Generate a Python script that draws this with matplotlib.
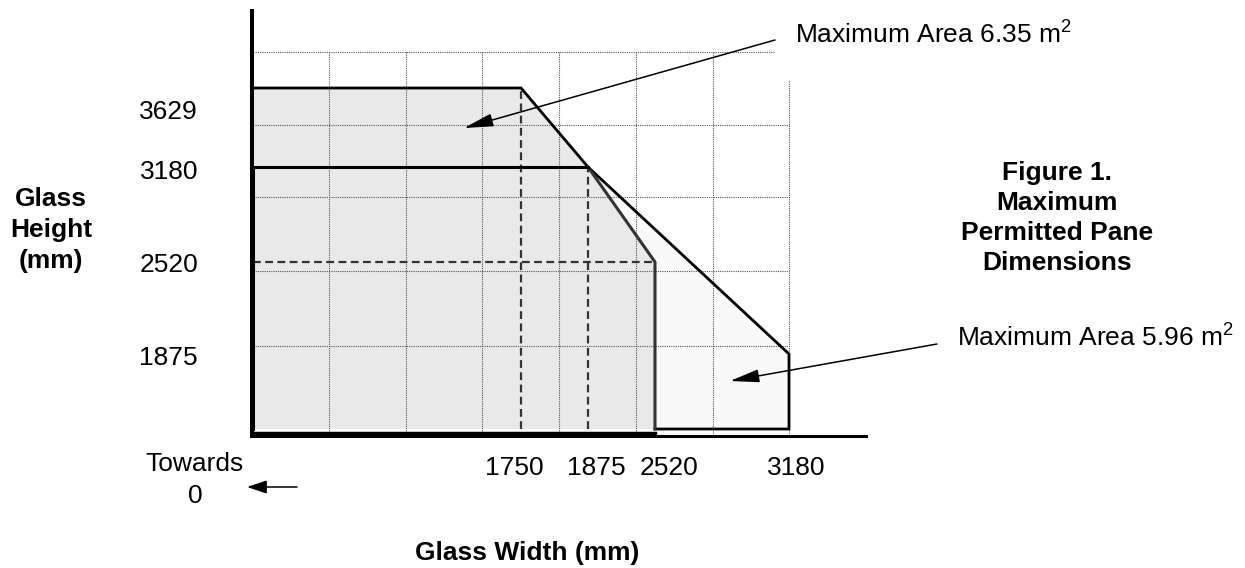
import numpy as np
import matplotlib
matplotlib.use("Agg")
import matplotlib.pyplot as plt
from matplotlib.lines import Line2D
from matplotlib.transforms import Affine2D

plt.rcParams['font.family'] = ['Liberation Sans', 'DejaVu Sans']
plt.rcParams['mathtext.fontset'] = 'custom'
plt.rcParams['mathtext.rm'] = 'Liberation Sans'
plt.rcParams['mathtext.it'] = 'Liberation Sans'

# pane limits (mm)
x_ticks = [1750, 1875, 2520, 3180]
y_ticks = [1875, 2520, 3180, 3629]

outer_w = [0, 0, 1750, 1875, 3180, 3180]
outer_h = [0, 3629, 3629, 3180, 1875, 0]
inner_w = [0, 0, 1875, 2520, 2520]
inner_h = [0, 3180, 3180, 2520, 0]

area_labels = ["Maximum Area 6.35 m$^2$", "Maximum Area 5.96 m$^2$"]

W, H = 1245, 568
FS = 19

# the drawing is a schematic, not to scale -> piecewise scale (mm -> pixel)
X_MM = [0, 1750, 1875, 2520, 3180]
X_PX = [253, 521, 588, 655, 789]
Y_MM = [0, 1875, 2520, 3180, 3629]
Y_PX = [H - r for r in [429, 354, 262, 167, 88]]


def piecewise(xp, fp):
    xp = np.asarray(xp, float)
    fp = np.asarray(fp, float)
    s0 = (fp[1] - fp[0]) / (xp[1] - xp[0])
    s1 = (fp[-1] - fp[-2]) / (xp[-1] - xp[-2])

    def f(v):
        v = np.asarray(v, float)
        return np.where(v < xp[0], fp[0] + (v - xp[0]) * s0,
                        np.where(v > xp[-1], fp[-1] + (v - xp[-1]) * s1,
                                 np.interp(v, xp, fp)))
    return f


fx, ix = piecewise(X_MM, X_PX), piecewise(X_PX, X_MM)
fy, iy = piecewise(Y_MM, Y_PX), piecewise(Y_PX, Y_MM)

fig = plt.figure(figsize=(W / 100, H / 100), dpi=100)
ax = fig.add_axes([252 / W, (H - 436) / H, (866 - 252) / W, (436 - 11) / H])
ax.set_xscale('function', functions=(fx, ix))
ax.set_yscale('function', functions=(fy, iy))
ax.set_xlim(float(ix(252)), float(ix(866)))
ax.set_ylim(float(iy(H - 436)), float(iy(H - 11)))
ax.set_xticks([])
ax.set_yticks([])
ax.minorticks_off()
for s in ['top', 'right']:
    ax.spines[s].set_visible(False)
ax.spines['left'].set_linewidth(2.9)
ax.spines['bottom'].set_linewidth(2.2)

# image-pixel coords (row counted from the top)
img = Affine2D().scale(1, -1).translate(0, H)

# fills
gray, light = '#e9e9e9', '#f9f9f9'
ax.fill(outer_w, outer_h, color=light, lw=0, zorder=1)
ax.fill([0] + outer_w[1:4], [inner_h[1]] + outer_h[1:4], color=gray, lw=0, zorder=1)
ax.fill(inner_w, inner_h, color=gray, lw=0, zorder=1)

# dotted grid
grid_kw = dict(color='#555555', lw=0.8, linestyle=(0, (1, 1)), transform=img, zorder=2)
for gx in [329, 406, 482, 559, 636, 713]:
    ax.add_line(Line2D([gx, gx], [52, 436], **grid_kw))
ax.add_line(Line2D([789, 789], [81, 436], **grid_kw))
ax.add_line(Line2D([253, 775], [52, 52], **grid_kw))
for gy in [125, 197, 271, 346]:
    ax.add_line(Line2D([253, 789], [gy, gy], **grid_kw))

# dashed reference lines
dash_kw = dict(color='#333333', lw=1.6, linestyle=(0, (3.5, 2)), zorder=3)
ax.plot([outer_w[2], outer_w[2]], [0, outer_h[2]], **dash_kw)
ax.plot([inner_w[2], inner_w[2]], [0, inner_h[2]], **dash_kw)
ax.plot([0, inner_w[3]], [inner_h[3], inner_h[3]], **dash_kw)

# outlines
ax.plot(outer_w[1:] + [inner_w[-1]], outer_h[1:] + [0], color='black', lw=2.0,
        zorder=4, solid_joinstyle='miter')
ax.plot(inner_w[2:], inner_h[2:], color='#333333', lw=2.2, zorder=4)
ax.plot(inner_w[:3], inner_h[:3], color='black', lw=2.2, zorder=5)
# bottom edge of the smaller pane sits on the axis line
ax.plot([inner_w[0], inner_w[-1]], [0, 0], color='black', lw=3.2, zorder=5,
        transform=ax.transData + Affine2D().translate(0, -5))

# tick labels
for v, dx in zip(x_ticks, [-7, 8, 14, 7]):
    ax.annotate(str(v), xy=(v, 0), xycoords=('data', 'axes fraction'),
                xytext=(dx, -32), textcoords='offset pixels',
                ha='center', va='center', fontsize=FS)
for v, dy in zip(y_ticks, [-4, -3, -5, -24]):
    ax.annotate(str(v), xy=(0, v), xycoords=('axes fraction', 'data'),
                xytext=(-54, dy), textcoords='offset pixels',
                ha='right', va='center', fontsize=FS)

# area call-outs
arrow_kw = dict(arrowstyle='-|>,head_length=0.9,head_width=0.2', mutation_scale=20,
                lw=1.1, color='black', shrinkA=0, shrinkB=0)
ax.annotate('', xy=(464, 128), xytext=(775, 40), xycoords=img, textcoords=img,
            arrowprops=arrow_kw, annotation_clip=False)
ax.text(795, 35, area_labels[0], transform=img, ha='left', va='center', fontsize=FS)
ax.annotate('', xy=(730, 381), xytext=(937, 344), xycoords=img, textcoords=img,
            arrowprops=arrow_kw, annotation_clip=False)
ax.text(957, 338, area_labels[1], transform=img, ha='left', va='center', fontsize=FS)

# axis titles etc.
ax.text(51, 230, "Glass\nHeight\n(mm)", transform=img, ha='center', va='center',
        fontsize=FS, fontweight='bold', linespacing=1.35)
ax.text(527, 553, "Glass Width (mm)", transform=img, ha='center', va='center',
        fontsize=FS, fontweight='bold')
ax.text(1057, 218, "Figure 1.\nMaximum\nPermitted Pane\nDimensions", transform=img,
        ha='center', va='center', fontsize=FS, fontweight='bold', linespacing=1.3)
ax.text(195, 480, "Towards\n0", transform=img, ha='center', va='center',
        fontsize=FS, linespacing=1.4)
ax.annotate('', xy=(247, 487), xytext=(297, 487), xycoords=img, textcoords=img,
            arrowprops=dict(arrowstyle='-|>,head_length=0.6,head_width=0.2',
                            mutation_scale=20, lw=1.1, color='black',
                            shrinkA=0, shrinkB=0), annotation_clip=False)

fig.savefig("out.png", dpi=100)
